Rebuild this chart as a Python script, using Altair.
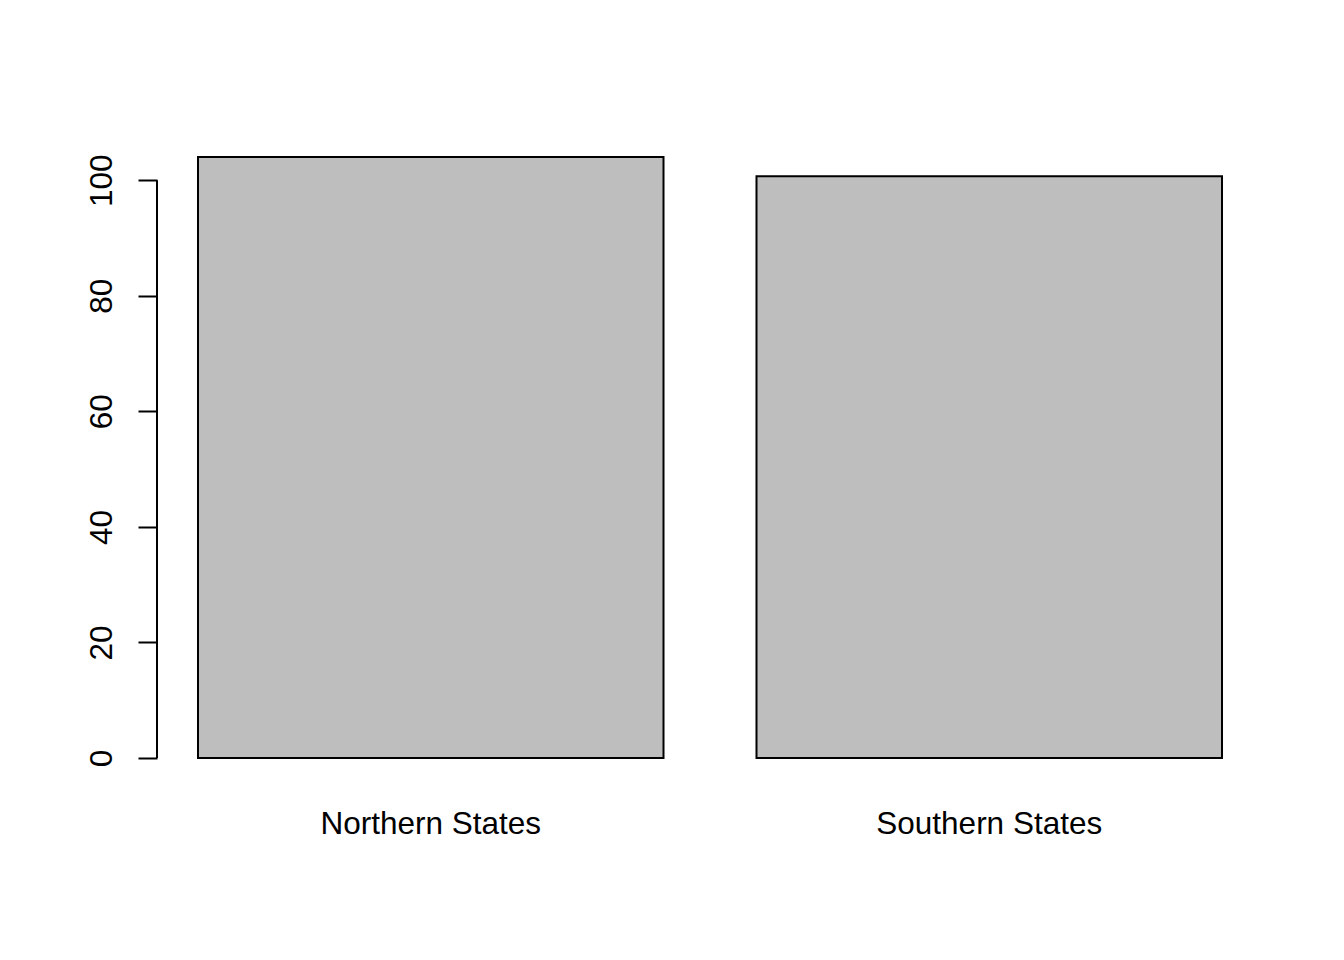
import altair as alt
import pandas as pd

categories = ["Northern States", "Southern States"]
values = [104.0, 100.7]
y_ticks = [0, 20, 40, 60, 80, 100]

df = pd.DataFrame({"region": categories, "value": values})
axis_df = pd.DataFrame({"lo": [min(y_ticks)], "hi": [max(y_ticks)]})

FONT = "Liberation Sans"
FS = 31.5

x = alt.X(
    "region:N",
    sort=categories,
    title=None,
    scale=alt.Scale(paddingInner=0.1665, paddingOuter=0.0734),
    axis=alt.Axis(
        domain=False, ticks=False, tickSize=0, labelAngle=0, labelLimit=0,
        labelFont=FONT, labelFontSize=FS, labelColor="black",
        labelBaseline="alphabetic", labelPadding=75, labelAlign="center",
    ),
)

y_scale = alt.Scale(domain=[0, 108], nice=False, zero=True)

bars = alt.Chart(df).mark_bar(
    fill="#BEBEBE", stroke="black", strokeWidth=2
).encode(
    x=x,
    y=alt.Y(
        "value:Q",
        scale=y_scale,
        title=None,
        axis=alt.Axis(
            values=y_ticks, grid=False, domain=False,
            tickSize=19, tickWidth=2, tickColor="black",
            labelAngle=270, labelAlign="center", labelBaseline="alphabetic",
            labelPadding=27, labelFont=FONT, labelFontSize=FS, labelLimit=0,
            labelColor="black",
        ),
    ),
)

axis_line = alt.Chart(axis_df).mark_rule(color="black", strokeWidth=2).encode(
    x=alt.value(0),
    y=alt.Y("lo:Q", scale=y_scale),
    y2="hi:Q",
)

chart = alt.layer(bars, axis_line).properties(
    width=1106,
    height=624,
    autosize=alt.AutoSizeParams(type="none"),
    padding={"left": 157, "top": 134, "right": 81, "bottom": 202},
    background="white",
).configure_view(stroke=None)

chart.save("out.html", embed_options={"renderer": "svg", "actions": False})
